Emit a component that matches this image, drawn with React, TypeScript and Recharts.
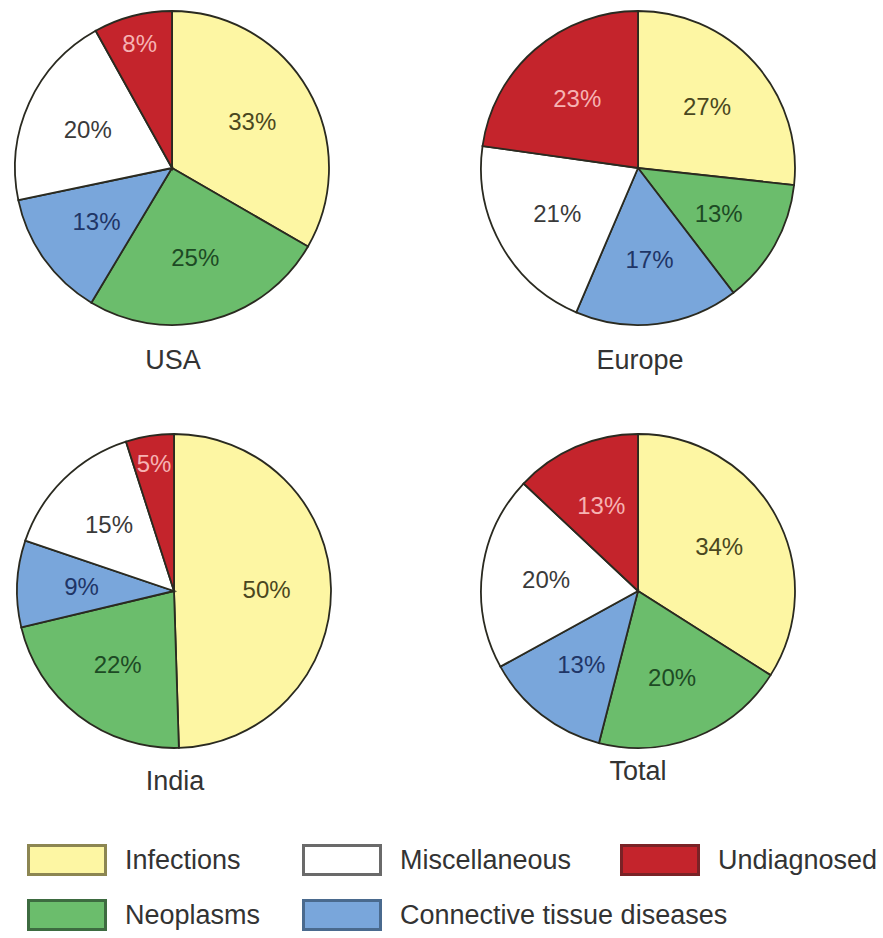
import React from "react";
import { PieChart, Pie, Cell } from "recharts";

const categories = ["Infections", "Neoplasms", "Connective tissue diseases", "Miscellaneous", "Undiagnosed"];
const regions = ["USA", "Europe", "India", "Total"];
const usaValues = [33, 25, 13, 20, 8];
const europeValues = [27, 13, 17, 21, 23];
const indiaValues = [50, 22, 9, 15, 5];
const totalValues = [34, 20, 13, 20, 13];
const legendRow1 = ["Infections", "Miscellaneous", "Undiagnosed"];
const legendRow2 = ["Neoplasms", "Connective tissue diseases"];

const FILLS: Record<string, string> = {
  "Infections": "#fdf6a3",
  "Neoplasms": "#6bbd6c",
  "Connective tissue diseases": "#79a6db",
  "Miscellaneous": "#ffffff",
  "Undiagnosed": "#c4242c",
};
const LABEL_COLORS: Record<string, string> = {
  "Infections": "#4a4720",
  "Neoplasms": "#1d4a24",
  "Connective tissue diseases": "#1f3566",
  "Miscellaneous": "#3a3a3a",
  "Undiagnosed": "#f6b3b3",
};
const BOX_BORDERS: Record<string, string> = {
  "Infections": "#8c8652",
  "Neoplasms": "#3d6b40",
  "Connective tissue diseases": "#4a6a8e",
  "Miscellaneous": "#6a6a6a",
  "Undiagnosed": "#7a2226",
};

const FONT = "'Liberation Sans', Arial, Helvetica, sans-serif";
const RAD = Math.PI / 180;

const toData = (vals: number[]) => categories.map((c, i) => ({ name: c, value: vals[i] }));
const datasets = [usaValues, europeValues, indiaValues, totalValues].map(toData);

const centers = [
  { cx: 172, cy: 168 },
  { cx: 638, cy: 168 },
  { cx: 174, cy: 591 },
  { cx: 638, cy: 591 },
];
const titlePos = [
  { x: 173, y: 360 },
  { x: 640, y: 360 },
  { x: 175, y: 781 },
  { x: 638, y: 771 },
];
const R = 157;

const renderLabel = (props: any) => {
  const { cx, cy, midAngle, outerRadius, value, name } = props;
  const f = value <= 8 ? 0.82 : 0.59;
  const r = outerRadius * f;
  const x = cx + r * Math.cos(-midAngle * RAD);
  const y = cy + r * Math.sin(-midAngle * RAD);
  return (
    <text
      x={x}
      y={y}
      fill={LABEL_COLORS[name]}
      textAnchor="middle"
      dominantBaseline="central"
      fontSize={24}
      fontFamily={FONT}
    >
      {`${value}%`}
    </text>
  );
};

const LegendItem = ({ name, x, y }: { name: string; x: number; y: number }) => (
  <div style={{ position: "absolute", left: x, top: y, display: "flex", alignItems: "center" }}>
    <div
      style={{
        width: 74,
        height: 26,
        background: FILLS[name],
        border: `3px solid ${BOX_BORDERS[name]}`,
        boxSizing: "content-box",
      }}
    />
    <span style={{ marginLeft: 18, fontSize: 27, color: "#333", fontFamily: FONT, whiteSpace: "nowrap" }}>
      {name}
    </span>
  </div>
);

export default function App() {
  const row1X = [27, 302, 620];
  const row2X = [27, 302];
  return (
    <div style={{ position: "absolute", left: 0, top: 0, width: 883, height: 938, background: "#fff" }}>
      <PieChart width={883} height={938} margin={{ top: 0, right: 0, bottom: 0, left: 0 }}>
        {datasets.map((d, k) => (
          <Pie
            key={regions[k]}
            data={d}
            dataKey="value"
            nameKey="name"
            cx={centers[k].cx}
            cy={centers[k].cy}
            outerRadius={R}
            startAngle={90}
            endAngle={-270}
            stroke="#2a2a20"
            strokeWidth={1.8}
            label={renderLabel}
            labelLine={false}
            isAnimationActive={false}
          >
            {d.map((e) => (
              <Cell key={e.name} fill={FILLS[e.name]} />
            ))}
          </Pie>
        ))}
      </PieChart>
      {regions.map((r, k) => (
        <div
          key={r}
          style={{
            position: "absolute",
            left: titlePos[k].x - 100,
            width: 200,
            top: titlePos[k].y - 16,
            textAlign: "center",
            fontSize: 27,
            lineHeight: "32px",
            color: "#333",
            fontFamily: FONT,
          }}
        >
          {r}
        </div>
      ))}
      {legendRow1.map((n, i) => (
        <LegendItem key={n} name={n} x={row1X[i]} y={844} />
      ))}
      {legendRow2.map((n, i) => (
        <LegendItem key={n} name={n} x={row2X[i]} y={899} />
      ))}
    </div>
  );
}
